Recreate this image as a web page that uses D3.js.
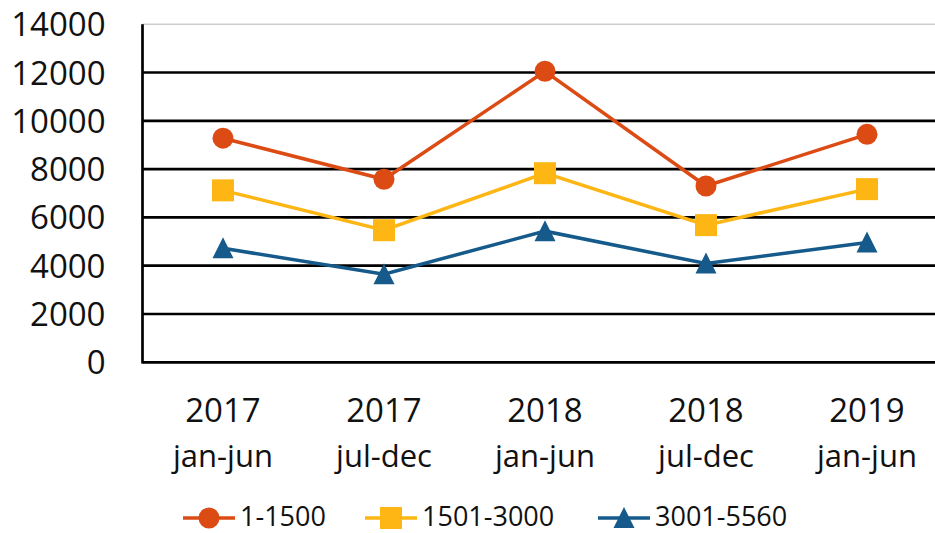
<!DOCTYPE html>
<html><head><meta charset="utf-8">
<script src="https://cdn.jsdelivr.net/npm/d3@7"></script>
<style>html,body{margin:0;padding:0;background:#fff;}svg{display:block;}</style>
</head><body>
<svg id="c" width="935" height="533"></svg>
<script>
const categoriesYear = ["2017","2017","2018","2018","2019"];
const categoriesPeriod = ["jan-jun","jul-dec","jan-jun","jul-dec","jan-jun"];
const seriesNames = ["1-1500","1501-3000","3001-5560"];
const s1 = [9280, 7580, 12050, 7300, 9440];
const s2 = [7120, 5470, 7830, 5680, 7170];
const s3 = [4720, 3650, 5430, 4090, 4960];
const yTicks = [0,2000,4000,6000,8000,10000,12000,14000];
const colors = ["#DC4B14","#FDB614","#155A8A"];
const shapes = ["circle","square","triangle"];

(function(){
const font = "'Open Sans', sans-serif";
const svg = d3.select("#c");
const pLeft = 142.5, pRight = 947.5, pTop = 24.2, pBottom = 362.3;
const idx = d3.range(categoriesYear.length);
const x = d3.scaleBand().domain(idx).range([pLeft, pRight]);
const y = d3.scaleLinear().domain([0,14000]).range([pBottom, pTop]);

const yAxis = d3.axisLeft(y).tickValues(yTicks).tickSize(0).tickPadding(37).tickFormat(d3.format("d"));
const gy = svg.append("g").attr("transform", `translate(${pLeft},0)`).call(yAxis);
gy.select(".domain").remove();
gy.selectAll("text").attr("font-family", font).attr("font-size", 33).attr("fill", "#111").attr("dy", "0.35em");
svg.append("g").selectAll("line").data(yTicks).join("line")
  .attr("x1", pLeft).attr("x2", pRight)
  .attr("y1", d => y(d)).attr("y2", d => y(d))
  .attr("stroke", d => d === 14000 ? "#b5b5b5" : "#000")
  .attr("stroke-width", d => d === 14000 ? 1 : 2.7);
svg.append("line").attr("x1", pLeft).attr("x2", pLeft).attr("y1", y(14000)).attr("y2", y(0) + 1.3)
  .attr("stroke", "#000").attr("stroke-width", 2.7);

const xl = svg.append("g");
idx.forEach(i => {
  const cx = x(i) + x.bandwidth()/2;
  xl.append("text").attr("x", cx).attr("y", 422).attr("text-anchor","middle")
    .attr("font-family", font).attr("font-size", 33).attr("fill","#111").text(categoriesYear[i]);
  xl.append("text").attr("x", cx).attr("y", 467).attr("text-anchor","middle")
    .attr("font-family", font).attr("font-size", 31).attr("fill","#111").text(categoriesPeriod[i]);
});

function marker(g, shape, color, cx, cy) {
  if (shape === "circle") g.append("circle").attr("cx", cx).attr("cy", cy).attr("r", 10.5).attr("fill", color);
  else if (shape === "square") g.append("rect").attr("x", cx-11).attr("y", cy-11).attr("width", 22).attr("height", 22).attr("fill", color);
  else g.append("path").attr("d", `M${cx},${cy-11} L${cx+10.5},${cy+10} L${cx-10.5},${cy+10} Z`).attr("fill", color);
}

const series = [s1, s2, s3];
const line = d3.line().x((d,i) => x(i) + x.bandwidth()/2).y(d => y(d));
series.forEach((s, k) => {
  const g = svg.append("g");
  g.append("path").attr("d", line(s)).attr("fill","none").attr("stroke", colors[k]).attr("stroke-width", 3.5);
  s.forEach((v, i) => marker(g, shapes[k], colors[k], x(i) + x.bandwidth()/2, y(v)));
});

const legX = [183, 365, 598];
const legY = 518;
seriesNames.forEach((n, k) => {
  const g = svg.append("g");
  g.append("line").attr("x1", legX[k]).attr("x2", legX[k] + 52).attr("y1", legY).attr("y2", legY)
    .attr("stroke", colors[k]).attr("stroke-width", 3.5);
  marker(g, shapes[k], colors[k], legX[k] + 26, legY);
  g.append("text").attr("x", legX[k] + 57).attr("y", 525.5)
    .attr("font-family", font).attr("font-size", 27).attr("fill","#111").text(n);
});
})();
</script>
</body></html>
